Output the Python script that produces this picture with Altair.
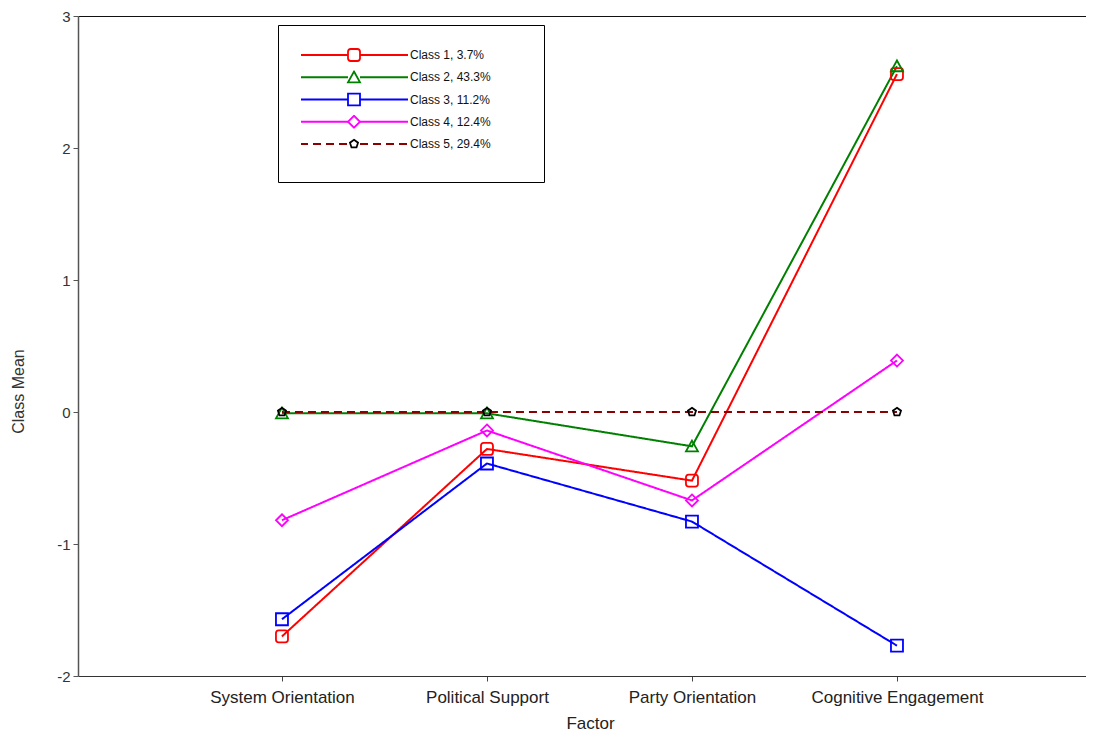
import altair as alt
import pandas as pd

REG = "Liberation Sans, Arial, sans-serif"

factors = ["System Orientation", "Political Support", "Party Orientation", "Cognitive Engagement"]
classes = ["Class 1, 3.7%", "Class 2, 43.3%", "Class 3, 11.2%", "Class 4, 12.4%", "Class 5, 29.4%"]
keys = ["1", "2", "3", "4", "5"]

class1 = [-1.70, -0.28, -0.52, 2.56]
class2 = [-0.01, -0.01, -0.26, 2.62]
class3 = [-1.57, -0.39, -0.83, -1.77]
class4 = [-0.82, -0.14, -0.67, 0.39]
class5 = [0.0, 0.0, 0.0, 0.0]

y_ticks = [-2, -1, 0, 1, 2, 3]

line_colors = ["#ff0000", "#008000", "#0000ff", "#ff00ff", "#8b0000"]
marker_colors = ["#ff0000", "#008000", "#0000ff", "#ff00ff", "#000000"]
dashes = [[1, 0], [1, 0], [1, 0], [1, 0], [8, 5]]
marker_shapes = [
    "M-0.55,-1H0.55Q1,-1,1,-0.55V0.55Q1,1,0.55,1H-0.55Q-1,1,-1,0.55V-0.55Q-1,-1,-0.55,-1Z",
    "M0,-0.95L1,0.85H-1Z",
    "M-1,-1H1V1H-1Z",
    "M0,-1L1,0L0,1L-1,0Z",
    "M0,-1L0.95,-0.31L0.59,0.81H-0.59L-0.95,-0.31Z",
]
marker_sizes = [144, 144, 144, 144, 72]

series = [class1, class2, class3, class4, class5]
rows = []
for ci, (name, vals) in enumerate(zip(classes, series)):
    for fi, (f, v) in enumerate(zip(factors, vals)):
        rows.append({"factor": f, "cls": name, "key": keys[ci], "value": v, "order": fi})
df = pd.DataFrame(rows)

xscale = alt.Scale(type="point", domain=factors, padding=0.9585, align=0.519)
yscale = alt.Scale(domain=[-2, 3], nice=False, zero=False)

y_axis = alt.Axis(
    values=y_ticks, grid=False, tickSize=5, tickColor="#555", domainColor="#555", domainWidth=1.5,
    labelPadding=3, labelFont=REG, labelFontSize=15, labelColor="#333",
    labelExpr="datum.value < 0 ? '-' + abs(datum.value) : '' + datum.value",
    title="Class Mean", titleFont=REG, titleFontSize=16, titleFontWeight="normal", titleColor="#333",
    titleX=-60, titleY=375, titleBaseline="middle", titleAngle=270,
)
x_axis = alt.Axis(
    orient="bottom", labelAngle=0, grid=False, tickSize=5, tickColor="#444", domainColor="#333",
    labelPadding=8, labelFont=REG, labelFontSize=17, labelColor="#222", labelLimit=300,
    title="Factor", titleFont=REG, titleFontSize=17, titleFontWeight="normal", titleColor="#222",
    titleX=512, titleY=52, titleBaseline="alphabetic",
)
x_top = alt.Axis(orient="top", labels=False, ticks=False, title=None, grid=False,
                 domainColor="#111", domainWidth=1.2)

legA = alt.Legend(
    orient="none", legendX=200, legendY=9, title="\u2800" * 55, titleOrient="bottom",
    titleAnchor="start", titleAlign="left",
    titleFontSize=6, titlePadding=1.5, titleLimit=400, titleFont=REG, titleColor="white",
    symbolType="M-9,0H-1M1,0H9", symbolSize=144, symbolStrokeWidth=2, symbolOffset=46,
    labelOffset=49, labelFont=REG, labelFontSize=12, labelColor="#111", labelLimit=300,
    clipHeight=14, rowPadding=8.25, padding=23, strokeColor="black", fillColor="white",
)
legB = alt.Legend(
    orient="none", legendX=200, legendY=9, title=None,
    symbolStrokeWidth=1.8, symbolOffset=46,
    labelOffset=49, labelFont=REG, labelFontSize=12, labelExpr="''",
    clipHeight=14, rowPadding=8.25, padding=23,
)

base = alt.Chart(df)

lines = base.mark_line(strokeWidth=2).encode(
    x=alt.X("factor:N", sort=factors, scale=xscale, axis=x_axis),
    y=alt.Y("value:Q", scale=yscale, axis=y_axis),
    color=alt.Color("cls:N", scale=alt.Scale(domain=classes, range=line_colors), legend=legA),
    strokeDash=alt.StrokeDash("cls:N", scale=alt.Scale(domain=classes, range=dashes), legend=legA),
    order="order:Q",
)

points = base.mark_point(filled=False, strokeWidth=1.8, opacity=1).encode(
    x=alt.X("factor:N", sort=factors, scale=xscale, axis=x_top),
    y=alt.Y("value:Q", scale=yscale, axis=y_axis),
    stroke=alt.Stroke("key:N", scale=alt.Scale(domain=keys, range=marker_colors), legend=legB),
    shape=alt.Shape("key:N", scale=alt.Scale(domain=keys, range=marker_shapes), legend=legB),
    size=alt.Size("key:N", scale=alt.Scale(type="ordinal", domain=keys, range=marker_sizes), legend=legB),
)

chart = alt.layer(lines, points).resolve_axis(x="independent").properties(
    width=1008, height=660,
    autosize=alt.AutoSizeParams(type="none"),
    padding={"left": 70, "top": 8, "right": 0, "bottom": 56},
    background="white",
).configure_view(stroke=None)

chart.save("out.html", embed_options={"renderer": "svg", "actions": False})
